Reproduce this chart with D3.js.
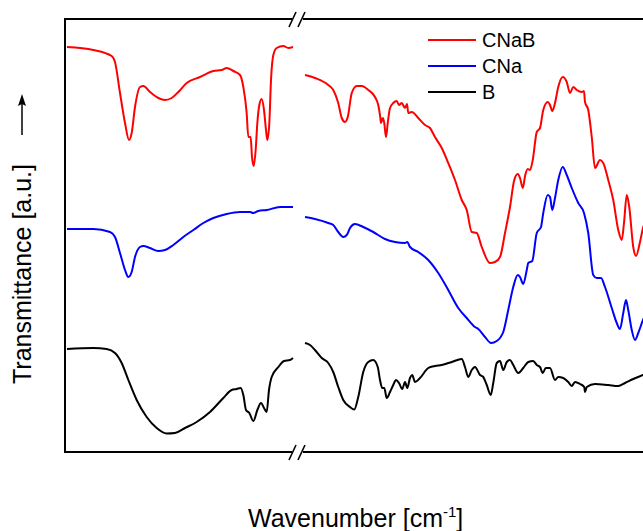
<!DOCTYPE html>
<html>
<head>
<meta charset="utf-8">
<script src="https://cdn.jsdelivr.net/npm/d3@7"></script>
<style>
html,body{margin:0;padding:0;background:#fff;}
svg{display:block;font-family:"Liberation Sans",Arial,sans-serif;}
</style>
</head>
<body>
<svg id="chart" width="643" height="531"></svg>
<script>
// ---- Data: [wavenumber (cm-1), transmittance (a.u., offset)] ----
const seriesNames = ["CNaB", "CNa", "B"];
const seriesColors = ["#ff0000", "#0000ff", "#000000"];

const cnabHigh = [[4000,405],[3842,402],[3732,396],[3712,390],[3682,359],[3652,329],[3628,312],[3612,319],[3592,345],[3562,365],[3542,366],[3502,360],[3452,354],[3412,352],[3372,354],[3332,360],[3282,369],[3202,375],[3122,381],[3072,382],[3042,384],[3002,381],[2962,377],[2942,365],[2922,339],[2912,315],[2898,315],[2890,295],[2880,286],[2868,302],[2858,329],[2846,347],[2832,353],[2818,342],[2806,322],[2798,312],[2786,329],[2776,372],[2762,397],[2742,404],[2702,406],[2672,404],[2644,405]];
const cnabLow = [[1800,377],[1760,374],[1707,367],[1687,362],[1667,349],[1653,334],[1640,330],[1629,335],[1613,359],[1593,366],[1573,366],[1547,362],[1520,355],[1507,347],[1499,335],[1496,329],[1489,334],[1483,329],[1476,315],[1469,329],[1460,344],[1447,349],[1433,351],[1424,347],[1413,349],[1400,344],[1392,348],[1387,339],[1373,340],[1347,334],[1320,327],[1300,324],[1280,315],[1253,304],[1227,289],[1200,272],[1173,252],[1153,242],[1133,220],[1113,219],[1093,205],[1060,189],[1040,190],[1020,195],[1000,219],[980,245],[963,272],[949,278],[940,274],[929,264],[919,277],[909,283],[900,282],[889,292],[873,320],[860,324],[847,342],[829,350],[820,347],[811,341],[800,349],[787,365],[769,375],[753,370],[740,359],[727,365],[713,362],[693,360],[684,361],[680,350],[667,342],[653,315],[640,284],[620,292],[607,289],[587,272],[567,252],[547,222],[533,212],[524,229],[513,257],[503,245],[487,205],[476,196],[460,210],[448,224],[436,232],[420,240]];

const cnaHigh = [[4000,223],[3842,223],[3742,220],[3712,215],[3682,199],[3652,182],[3632,175],[3612,180],[3592,195],[3562,205],[3542,206],[3502,204],[3452,201],[3412,202],[3362,207],[3302,215],[3242,222],[3182,229],[3122,234],[3042,238],[2962,240],[2902,240],[2882,239],[2852,241],[2802,242],[2722,245],[2644,245]];
const cnaLow = [[1800,235],[1760,233],[1707,229],[1687,227],[1667,220],[1647,215],[1633,217],[1620,224],[1600,228],[1567,225],[1527,220],[1480,213],[1440,210],[1400,209],[1391,210],[1380,205],[1347,200],[1307,192],[1267,179],[1227,162],[1187,144],[1153,134],[1120,125],[1107,123],[1080,115],[1056,109],[1033,111],[1007,120],[987,142],[967,165],[949,177],[940,175],[927,168],[913,182],[907,189],[891,191],[873,219],[856,225],[847,239],[829,257],[820,255],[811,242],[800,254],[787,272],[769,285],[753,277],[733,264],[707,249],[684,239],[667,219],[647,177],[633,174],[616,174],[600,165],[573,144],[553,129],[540,123],[527,139],[516,152],[507,142],[493,122],[480,112],[467,119],[448,132],[428,142]];

const bHigh = [[4000,103],[3842,104],[3762,103],[3712,99],[3672,89],[3632,72],[3582,52],[3522,35],[3462,24],[3402,18.5],[3352,19],[3292,24],[3222,30],[3142,40],[3062,54],[3012,62],[2982,63],[2958,64],[2942,57],[2926,42],[2906,39],[2882,31],[2858,42],[2836,49],[2818,44],[2802,40],[2788,62],[2772,75],[2732,85],[2698,91],[2662,92],[2644,94]];
const bLow = [[1800,109],[1780,107],[1760,102],[1733,94],[1707,89],[1687,80],[1667,65],[1647,52],[1620,45],[1603,42.5],[1587,55],[1567,80],[1547,90],[1527,92],[1509,85],[1500,72],[1491,64],[1483,64],[1473,54],[1460,60],[1447,67],[1436,72],[1424,69],[1411,63],[1400,70],[1391,64],[1380,74],[1371,77],[1360,70],[1340,74],[1307,84],[1280,86],[1253,87],[1213,90],[1173,93],[1160,85],[1147,75],[1133,82],[1120,85],[1100,77],[1087,75],[1073,67],[1057,57],[1047,69],[1033,89],[1020,91],[1007,82],[993,90],[980,92],[967,87],[947,79],[927,84],[907,90],[887,91],[873,87],[860,85],[849,79],[837,84],[820,84],[800,72],[787,75],[767,74],[747,70],[733,66],[720,70],[700,68],[683,65],[680,60],[673,65],[640,68],[587,67],[547,66],[520,69],[487,73],[448,77],[420,81]];

const highDomain = [4000, 2644];
const lowDomain = [1800, 400];
const yDomain = [0, 434];

const svg = d3.select("#chart");

const xHigh = d3.scaleLinear().domain(highDomain).range([67, 293]);
const xLow = d3.scaleLinear().domain(lowDomain).range([305, 655]);
const y = d3.scaleLinear().domain(yDomain).range([452, 18]);

const frameTop = 19, frameBottom = 452, frameLeft = 65;

// Frame
const frame = svg.append("g").attr("stroke", "#000").attr("stroke-width", 2).attr("fill", "none");
frame.append("line").attr("x1", frameLeft).attr("x2", frameLeft).attr("y1", frameTop - 1).attr("y2", frameBottom + 1);
[frameTop, frameBottom].forEach(yy => {
  frame.append("line").attr("x1", frameLeft).attr("x2", 292).attr("y1", yy).attr("y2", yy);
  frame.append("line").attr("x1", 303).attr("x2", 660).attr("y1", yy).attr("y2", yy);
  frame.append("line").attr("x1", 289).attr("y1", yy + 8).attr("x2", 296).attr("y2", yy - 7).attr("stroke-width", 1.6);
  frame.append("line").attr("x1", 298).attr("y1", yy + 8).attr("x2", 305).attr("y2", yy - 7).attr("stroke-width", 1.6);
});

// Curves
const segments = [
  {data: cnabHigh, x: xHigh, c: 0}, {data: cnabLow, x: xLow, c: 0},
  {data: cnaHigh, x: xHigh, c: 1}, {data: cnaLow, x: xLow, c: 1},
  {data: bHigh, x: xHigh, c: 2}, {data: bLow, x: xLow, c: 2}
];
segments.forEach(s => {
  const line = d3.line().x(d => s.x(d[0])).y(d => y(d[1])).curve(d3.curveMonotoneX);
  svg.append("path").datum(s.data)
    .attr("d", line)
    .attr("fill", "none")
    .attr("stroke", seriesColors[s.c])
    .attr("stroke-width", 2)
    .attr("stroke-linejoin", "round");
});

// Legend
const legend = svg.append("g").attr("transform", "translate(428,40)");
seriesNames.forEach((n, i) => {
  const g = legend.append("g").attr("transform", `translate(0,${i * 26})`);
  g.append("line").attr("x1", 0).attr("x2", 48).attr("y1", 0).attr("y2", 0)
    .attr("stroke", seriesColors[i]).attr("stroke-width", 2);
  g.append("text").attr("x", 54).attr("y", 7).attr("font-size", 20).attr("fill", "#000").text(n);
});

// Axis titles
const xt = svg.append("text").attr("x", 248).attr("y", 527).attr("font-size", 25).attr("fill", "#000");
xt.append("tspan").text("Wavenumber [cm");
xt.append("tspan").attr("font-size", 15).attr("dy", -10).text("-1");
xt.append("tspan").attr("dy", 10).text("]");

svg.append("text")
  .attr("transform", "translate(31,274) rotate(-90)")
  .attr("text-anchor", "middle")
  .attr("font-size", 25)
  .attr("fill", "#000")
  .text("Transmittance [a.u.]");

// Arrow
svg.append("line").attr("x1", 22).attr("x2", 22).attr("y1", 135).attr("y2", 100)
  .attr("stroke", "#000").attr("stroke-width", 1.5);
svg.append("path").attr("d", "M22,94 L18,106 L22,104 L26,106 Z").attr("fill", "#000");
</script>
</body>
</html>
